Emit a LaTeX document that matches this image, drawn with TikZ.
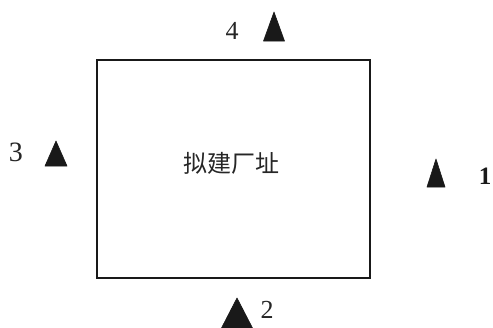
\documentclass[tikz,border=0pt]{standalone}
\usepackage{fontspec}
\setmainfont{Liberation Serif}
\newfontfamily\cjk{Noto Sans CJK SC}
\tikzset{
  site/.style={draw=black!90, line width=2.2pt},
  lbl/.style={font=\fontsize{26}{28}\selectfont, inner sep=0pt, text=black!85},
  mark tri/.style={fill=black!90, draw=black!90, line width=0.6pt, line join=round}
}
\begin{document}
\begin{tikzpicture}[x=1pt,y=-1pt]
\useasboundingbox (0,0) rectangle (493,327);
\fill[white] (0,0) rectangle (493,327);
\node[site, minimum width=273pt, minimum height=218pt, inner sep=0pt] (site) at (233.5,169) {};
\node[font=\cjk\fontsize{24}{27}\selectfont, inner sep=0pt, text=black!85] (name) at (231,163) {拟建厂址};
% monitoring points: apex, then base
\coordinate (t4) at (274,12);
\coordinate (t3) at (56,141);
\coordinate (t1) at (436,159);
\coordinate (t2) at (237,298);
\foreach \p/\w/\h in {t4/21/29, t3/22/25, t1/18/28, t2/31/30}{
  \fill[mark tri] (\p) -- ++(-\w/2,\h) -- ++(\w,0) -- cycle;
}
\node[lbl] (l4) at (232,31) {4};
\node[lbl, font=\fontsize{28}{30}\selectfont] (l3) at (16,152) {3};
\node[inner sep=0pt, text=black!90, font=\fontsize{25}{28}\selectfont\bfseries] (l1) at (485,176) {1};
\node[lbl] (l2) at (267,310) {2};
\end{tikzpicture}
\end{document}
